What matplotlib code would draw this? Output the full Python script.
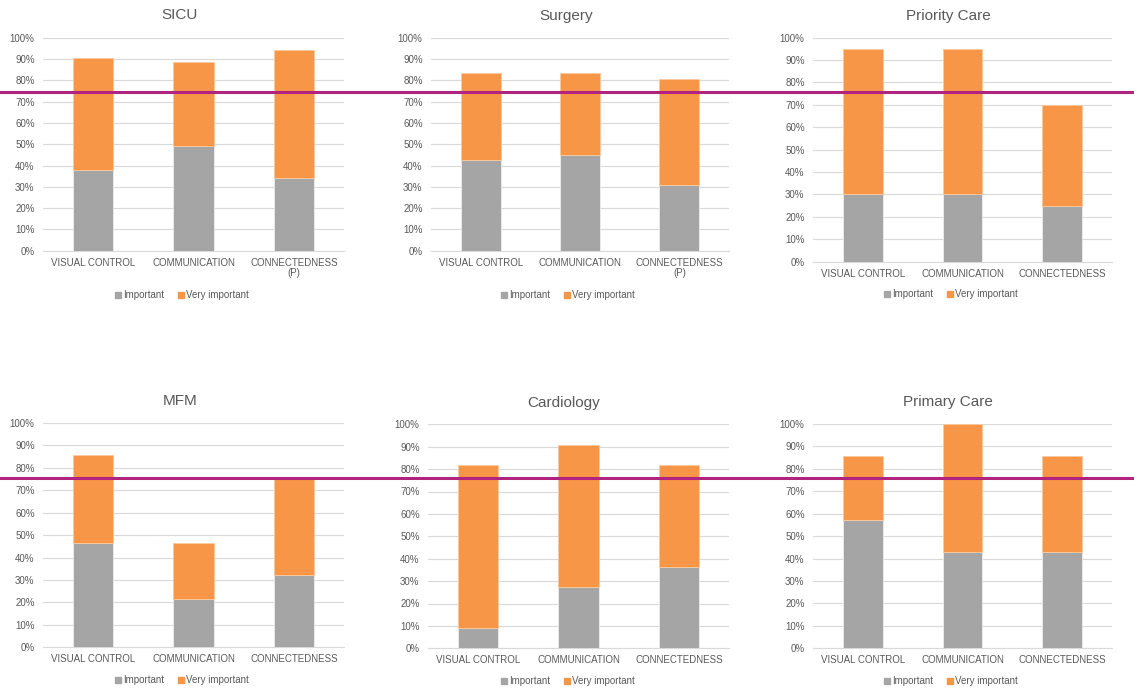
import matplotlib
matplotlib.use('Agg')
from matplotlib import pyplot as plt
from matplotlib.lines import Line2D

plt.rcParams['font.family'] = ['Liberation Sans', 'DejaVu Sans']

# data (percent of respondents)
titles = ['SICU', 'Surgery', 'Priority Care', 'MFM', 'Cardiology', 'Primary Care']
cats_p = ['VISUAL CONTROL', 'COMMUNICATION', 'CONNECTEDNESS\n(P)']
cats = ['VISUAL CONTROL', 'COMMUNICATION', 'CONNECTEDNESS']
sicu_imp = [37.7, 49.1, 34.0]
sicu_very = [52.9, 39.6, 60.3]
surgery_imp = [42.7, 45.1, 30.7]
surgery_very = [40.6, 38.2, 50.1]
priority_imp = [30, 30, 25]
priority_very = [65, 65, 45]
mfm_imp = [46.4, 21.4, 32.1]
mfm_very = [39.3, 25.0, 42.9]
cardio_imp = [9.1, 27.3, 36.4]
cardio_very = [72.7, 63.6, 45.4]
primary_imp = [57.1, 42.9, 42.9]
primary_very = [28.6, 57.1, 42.8]

GRAY = '#A5A5A5'
ORANGE = '#F79646'
TXT = '#595959'
GRID = '#D9D9D9'
LINE = '#B0237E'

W, H = 1134, 689
fig = plt.figure(figsize=(W / 100, H / 100), dpi=100)

def px(l, r, t, b):
    # pixel box -> figure rect
    return [l / W, 1 - b / H, (r - l) / W, (b - t) / H]

panels = [
    # rect, labels, imp, very, title pos, legend pos
    (px(43, 344, 37.7, 250.7), cats_p, sicu_imp, sicu_very, (180, 15), (181, 295)),
    (px(431, 729, 37.7, 250.7), cats_p, surgery_imp, surgery_very, (566, 16), (567, 295)),
    (px(813, 1112, 37.7, 261.7), cats, priority_imp, priority_very, (948, 16), (950, 294)),
    (px(43, 344, 423, 647.3), cats, mfm_imp, mfm_very, (180, 401), (181, 680)),
    (px(428, 729, 424.3, 648.3), cats, cardio_imp, cardio_very, (564, 403), (567, 681.5)),
    (px(813, 1112, 424, 648.3), cats, primary_imp, primary_very, (948, 402), (950, 681.5)),
]

for name, (rect, labels, imp, very, tpos, lpos) in zip(titles, panels):
    ax = fig.add_axes(rect)
    x = range(len(labels))
    ax.bar(x, imp, 0.4, color=GRAY, edgecolor='#EDEDED', linewidth=0.6, zorder=3)
    ax.bar(x, very, 0.4, bottom=imp, color=ORANGE, edgecolor='#F9C9A0', linewidth=0.6, zorder=3)
    ax.set_xlim(-0.5, 2.5)
    ax.set_ylim(0, 100)
    ax.set_yticks(range(0, 101, 10))
    ax.set_yticklabels([f'{v}%' for v in range(0, 101, 10)])
    ax.set_xticks(list(x))
    ax.set_xticklabels(labels, linespacing=1.0)
    ax.tick_params(length=0, labelsize=7, colors=TXT, pad=5)
    ax.tick_params(axis='y', pad=6)
    ax.grid(axis='y', color=GRID, linewidth=0.8, zorder=0)
    for s in ['top', 'right', 'left']:
        ax.spines[s].set_visible(False)
    ax.spines['bottom'].set_color(GRID)
    ax.spines['bottom'].set_linewidth(0.8)
    fig.text(tpos[0] / W, 1 - tpos[1] / H, name, ha='center', va='center',
             fontsize=11, color=TXT)
    handles = [Line2D([], [], marker='s', ls='', color=GRAY, markersize=4.5),
               Line2D([], [], marker='s', ls='', color=ORANGE, markersize=4.5)]
    leg = fig.legend(handles, ['Important', 'Very important'], loc='center',
                     bbox_to_anchor=(lpos[0] / W, 1 - lpos[1] / H), ncol=2,
                     frameon=False, fontsize=7, handletextpad=0.0,
                     columnspacing=1.2, handlelength=1.0)
    for t in leg.get_texts():
        t.set_color(TXT)

# magenta reference lines across the whole figure
for yl in [92.3, 478.3]:
    fig.add_artist(Line2D([0, 1], [1 - yl / H, 1 - yl / H], color=LINE, linewidth=2.2))

fig.savefig('out.png', dpi=100, facecolor='white')
